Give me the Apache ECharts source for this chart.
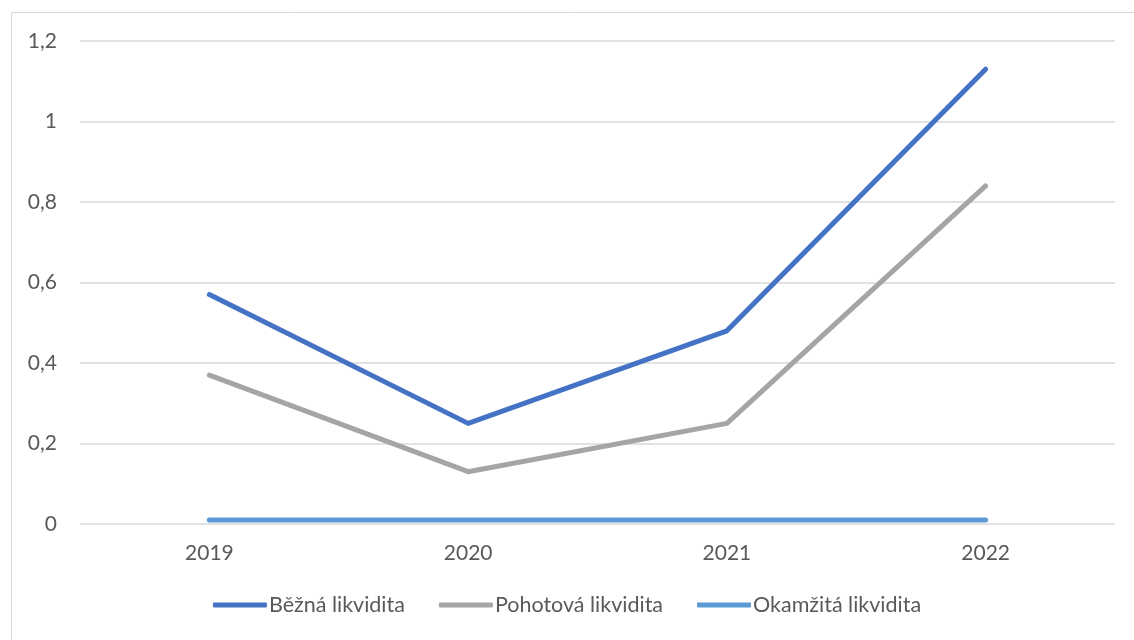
<!DOCTYPE html>
<html lang="cs">
<head>
	<meta charset="UTF-8">
	<title>Likvidita</title>
	<script src="https://cdn.jsdelivr.net/npm/echarts@6/dist/echarts.min.js"></script>
	<style>
		html, body { margin: 0; padding: 0; background: #fff; }
		#chart { width: 1134px; height: 640px; }
	</style>
</head>
<body>
	<div id="chart"></div>
	<script>
		var years = ['2019', '2020', '2021', '2022'];
		var bezna = [0.57, 0.25, 0.48, 1.13];
		var pohotova = [0.37, 0.13, 0.25, 0.84];
		var okamzita = [0.01, 0.01, 0.01, 0.01];

		var txt = '#595959';
		var font = 'Lato, "Open Sans", sans-serif';

		function line(name, data, color) {
			return {
				name: name,
				type: 'line',
				data: data,
				symbol: 'none',
				lineStyle: { color: color, width: 5, cap: 'round', join: 'round' },
				itemStyle: { color: color }
			};
		}

		var myChart = echarts.init(document.getElementById('chart'));
		myChart.setOption({
			animation: false,
			graphic: [{
				type: 'rect',
				shape: { x: 11.5, y: 12.5, width: 1200, height: 700 },
				style: { fill: 'none', stroke: '#d9d9d9', lineWidth: 1 },
				silent: true
			}],
			grid: { left: 80, right: 19, top: 41, bottom: 116 },
			legend: {
				bottom: 19,
				left: 'center',
				itemWidth: 54,
				itemHeight: 5,
				itemGap: 34,
				icon: 'roundRect',
				textStyle: { color: txt, fontSize: 21.5, fontFamily: font, padding: [0, 0, 0, -3] },
				data: ['Běžná likvidita', 'Pohotová likvidita', 'Okamžitá likvidita']
			},
			xAxis: {
				type: 'category',
				data: years,
				boundaryGap: true,
				axisLine: { show: false },
				axisTick: { show: false },
				axisLabel: { color: txt, fontSize: 21, fontFamily: font, margin: 19 }
			},
			yAxis: {
				type: 'value',
				min: 0,
				max: 1.2,
				interval: 0.2,
				axisLine: { show: false },
				axisTick: { show: false },
				splitLine: { lineStyle: { color: '#d9d9d9', width: 1.5 } },
				axisLabel: {
					color: txt, fontSize: 21, fontFamily: font, margin: 23,
					formatter: function (v) { return String(Math.round(v * 10) / 10).replace('.', ','); }
				}
			},
			series: [
				line('Běžná likvidita', bezna, '#4472C4'),
				line('Pohotová likvidita', pohotova, '#A5A5A5'),
				line('Okamžitá likvidita', okamzita, '#5B9BD5')
			]
		});
	</script>
</body>
</html>
